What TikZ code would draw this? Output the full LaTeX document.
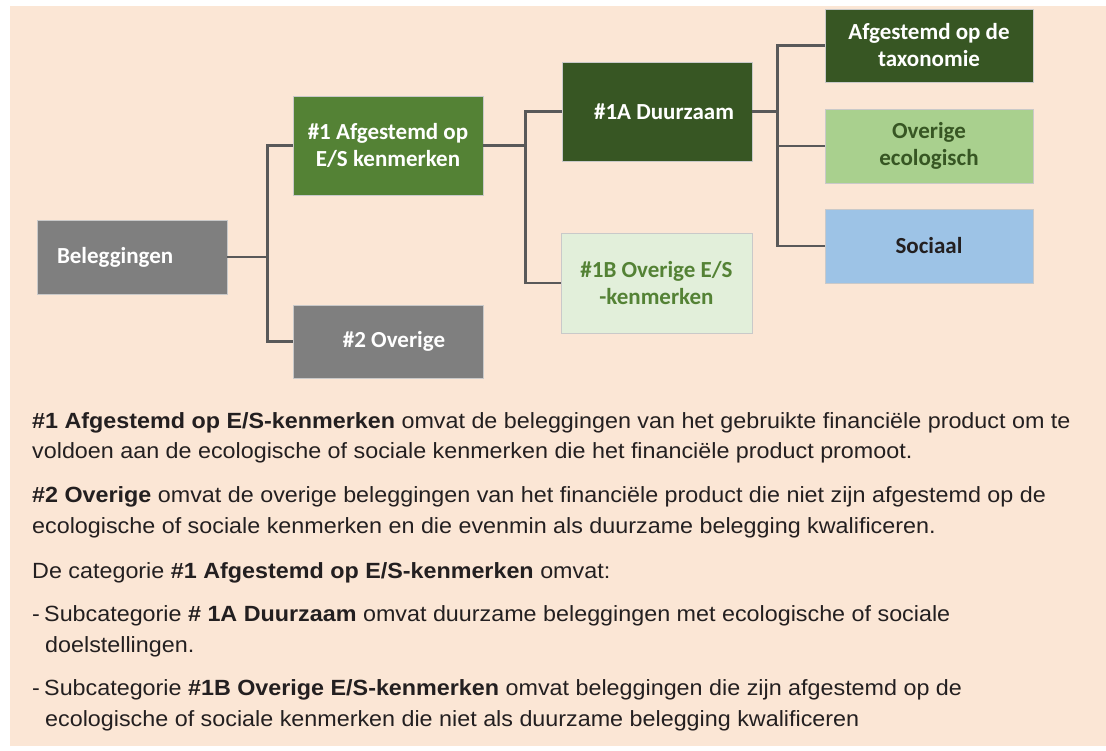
\documentclass[tikz,border=0pt]{standalone}
\usepackage{fontspec}
\setmainfont{Liberation Sans}[FakeStretch=1.06]
\newfontfamily\boxfont{Carlito}
\definecolor{bgc}{HTML}{FBE6D5}
\definecolor{greyc}{HTML}{7F7F7F}
\definecolor{greenA}{HTML}{548235}
\definecolor{darkg}{HTML}{375623}
\definecolor{lightg}{HTML}{A9D08E}
\definecolor{paleg}{HTML}{E2EFDA}
\definecolor{bluec}{HTML}{9DC3E6}
\definecolor{connc}{HTML}{595959}
\definecolor{boxline}{HTML}{C9C9C9}
\definecolor{txtc}{HTML}{231F20}
\tikzset{
  box/.style={draw=boxline, line width=0.8pt, inner sep=0pt, align=center,
    font=\boxfont\bfseries\fontsize{23pt}{27pt}\selectfont},
  conn/.style={draw=connc, line width=2.5pt},
  body/.style={anchor=base west, inner sep=0pt, text=txtc,
    font=\fontsize{22pt}{30pt}\selectfont}
}
\begin{document}
\begin{tikzpicture}[x=1pt,y=-1pt]
\useasboundingbox (0,0) rectangle (1106,751);
\fill[white] (0,0) rectangle (1106,751);
\fill[bgc] (10,6) rectangle (1106,746);

% boxes
\node[box, fill=greyc, text=white, minimum width=190pt, minimum height=74pt, text width=150pt, align=left] (bel) at (132,257) {Beleggingen};
\node[box, fill=greenA, text=white, minimum width=190pt, minimum height=99pt] (a1) at (388,145.5) {\#1 Afgestemd op\\E/S kenmerken};
\node[box, fill=greyc, text=white, minimum width=190pt, minimum height=73pt] (o2) at (388,341.5) {\hspace*{12pt}\#2 Overige};
\node[box, fill=darkg, text=white, minimum width=190pt, minimum height=99pt] (d1a) at (657,111.5) {\hspace*{14pt}\#1A Duurzaam};
\node[box, fill=paleg, text=greenA, minimum width=191pt, minimum height=100pt] (d1b) at (656.5,283) {\#1B Overige E/S\\-kenmerken};
\node[box, fill=darkg, text=white, minimum width=208pt, minimum height=73pt] (tax) at (929,45.5) {Afgestemd op de\\taxonomie};
\node[box, fill=lightg, text=darkg, minimum width=208pt, minimum height=74pt] (eco) at (929,146) {Overige\\ecologisch};
\node[box, fill=bluec, text=txtc, minimum width=208pt, minimum height=74pt] (soc) at (929,246) {Sociaal};

% connectors
\draw[conn] (bel.east) -- ++(40,0) coordinate (j1) |- (a1.west);
\draw[conn] (j1) |- (o2.west);
\draw[conn] (a1.east) -- ++(42,0) coordinate (j2) |- (d1a.west);
\draw[conn] (j2) |- (d1b.west);
\draw[conn] (d1a.east) -- ++(25,0) coordinate (j3) |- (tax.west);
\draw[conn] (j3) |- (eco.west);
\draw[conn] (j3) |- (soc.west);

% body text
\node[body] (t1) at (32,428) {\textbf{\#1 Afgestemd op E/S-kenmerken} omvat de beleggingen van het gebruikte financiële product om te};
\node[body] (t2) at (32,458) {voldoen aan de ecologische of sociale kenmerken die het financiële product promoot.};
\node[body] (t3) at (32,502) {\textbf{\#2 Overige} omvat de overige beleggingen van het financiële product die niet zijn afgestemd op de};
\node[body] (t4) at (32,533) {ecologische of sociale kenmerken en die evenmin als duurzame belegging kwalificeren.};
\node[body] (t5) at (32,578) {De categorie \textbf{\#1 Afgestemd op E/S-kenmerken} omvat:};
\node[body] (b1) at (32,621) {-};
\node[body] (t6) at (44,621) {Subcategorie \textbf{\# 1A Duurzaam} omvat duurzame beleggingen met ecologische of sociale};
\node[body] (t7) at (45,652) {doelstellingen.};
\node[body] (b2) at (32,695) {-};
\node[body] (t8) at (44,695) {Subcategorie \textbf{\#1B Overige E/S-kenmerken} omvat beleggingen die zijn afgestemd op de};
\node[body] (t9) at (45,726) {ecologische of sociale kenmerken die niet als duurzame belegging kwalificeren};
\end{tikzpicture}
\end{document}
